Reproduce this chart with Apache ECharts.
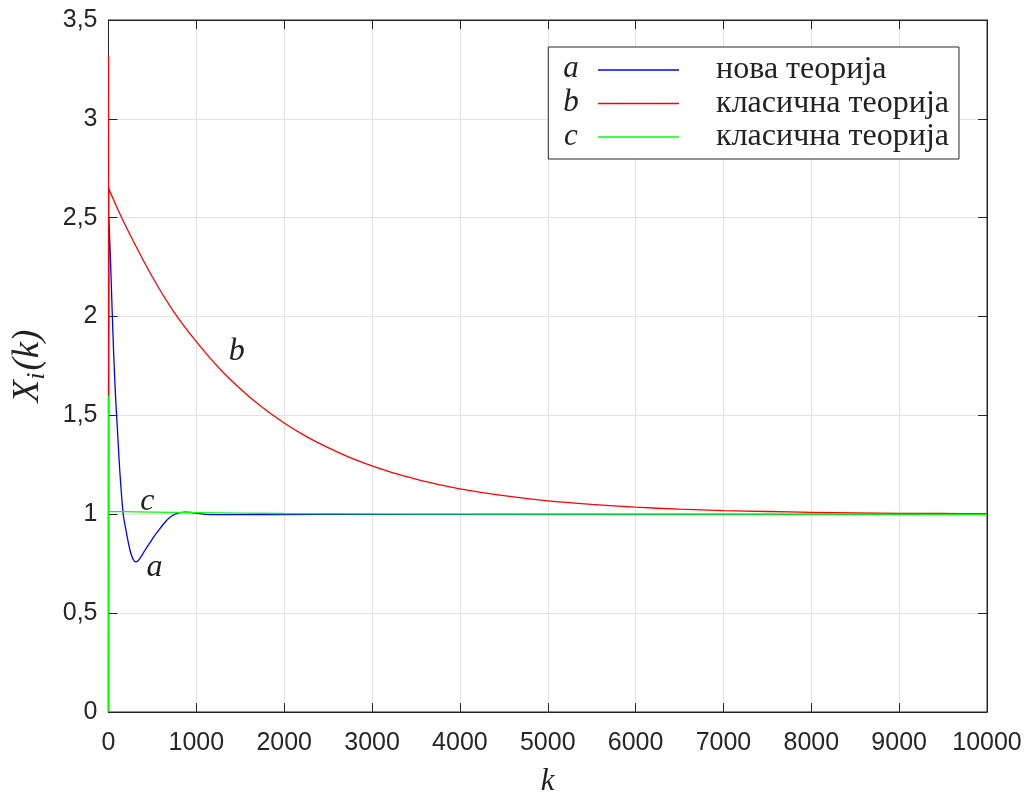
<!DOCTYPE html>
<html>
<head>
<meta charset="utf-8">
<script src="https://cdn.jsdelivr.net/npm/echarts@6/dist/echarts.min.js"></script>
<style>
  html, body { margin: 0; padding: 0; background: #fff; }
  #chart { width: 1031px; height: 796px; }
</style>
</head>
<body>
<div id="chart"></div>
<script>
// Axis ticks
const xTicks = [0, 1000, 2000, 3000, 4000, 5000, 6000, 7000, 8000, 9000, 10000];
const yTicks = [0, 0.5, 1, 1.5, 2, 2.5, 3, 3.5];

// Legend texts per curve
const curveNames = ['a', 'b', 'c'];
const curveLabels = ['нова теорија', 'класична теорија', 'класична теорија'];
const curveColors = ['#0000ff', '#ff0000', '#00ff00'];

// Curve a: new theory (k, X)
const kA = [0, 3, 20, 40, 60, 82, 100, 130, 168, 207, 245, 270, 290, 310, 330, 360, 415, 470, 529, 590, 643, 700, 757, 810, 870, 940, 1000, 1100, 1250, 1500, 2000, 3000, 5000, 10000];
const xA = [0, 2.5, 2.32, 2.05, 1.8, 1.58, 1.44, 1.21, 1.0, 0.9, 0.818, 0.783, 0.766, 0.759, 0.762, 0.778, 0.818, 0.855, 0.894, 0.93, 0.96, 0.985, 1.0, 1.008, 1.011, 1.009, 1.005, 1.0, 0.998, 0.998, 0.999, 1.0, 1.0, 1.0];

// Curve b: classical theory
const kB = [0, 1, 2, 5, 10, 100, 250, 500, 750, 1000, 1250, 1500, 1750, 2000, 2250, 2500, 2750, 3000, 3250, 3500, 3750, 4000, 4500, 5000, 5500, 6000, 6500, 7000, 7500, 8000, 8500, 9000, 9500, 10000];
const xB = [0, 3.32, 1.88, 2.65, 2.64, 2.548, 2.41, 2.2, 2.02, 1.873, 1.744, 1.635, 1.541, 1.462, 1.394, 1.337, 1.287, 1.245, 1.208, 1.178, 1.151, 1.129, 1.094, 1.068, 1.05, 1.036, 1.026, 1.019, 1.014, 1.01, 1.007, 1.005, 1.004, 1.003];

// Curve c: classical theory
const kC = [0, 1, 3, 500, 1000, 1500, 2000, 3000, 5000, 10000];
const xC = [0, 1.6, 1.015, 1.011, 1.008, 1.006, 1.004, 1.002, 1.001, 1.0];

// Curve tags placed next to the lines (k, X)
const tagA = [524, 0.728];
const tagB = [1459, 1.823];
const tagC = [443, 1.066];

const pairs = (ks, vs) => ks.map((k, i) => [k, vs[i]]);

const axisColor = '#262626';
const gridColor = '#e3e3e3';
const tickFont = { fontFamily: 'Liberation Sans', fontSize: 25, color: axisColor };
const serifItalic = { fontFamily: 'Liberation Serif', fontStyle: 'italic', color: '#222' };

function tagPoint(coord, letter) {
  return {
    symbol: 'circle',
    symbolSize: 0,
    silent: true,
    data: [{ coord: coord, value: letter }],
    label: {
      show: true,
      position: 'inside',
      formatter: letter,
      fontFamily: 'Liberation Serif',
      fontStyle: 'italic',
      fontSize: 32,
      color: '#222'
    }
  };
}

const series = [
  { data: pairs(kA, xA), tag: tagA, smooth: 0.3 },
  { data: pairs(kB, xB), tag: tagB, smooth: 0.3 },
  { data: pairs(kC, xC), tag: tagC, smooth: false }
].map((s, i) => ({
  name: curveNames[i],
  type: 'line',
  data: s.data,
  xAxisIndex: 0,
  yAxisIndex: 0,
  showSymbol: false,
  symbol: 'none',
  smooth: s.smooth,
  animation: false,
  lineStyle: { color: curveColors[i], width: 1.3 },
  itemStyle: { color: curveColors[i] },
  z: 3 + i,
  markPoint: tagPoint(s.tag, curveNames[i])
}));

const legendRows = [69.3, 102.8, 136.5];

function frameAxis(pos, extra) {
  return Object.assign({
    type: 'value',
    position: pos,
    axisLine: { show: true, onZero: false, lineStyle: { color: axisColor, width: 1 } },
    axisTick: { show: true, inside: true, length: 9, lineStyle: { color: axisColor } },
    axisLabel: { show: false },
    splitLine: { show: false }
  }, extra);
}

const chart = echarts.init(document.getElementById('chart'));
chart.setOption({
  animation: false,
  backgroundColor: '#fff',
  grid: {
    left: 108.5, right: 44, top: 20, bottom: 84,
    outerBoundsMode: 'none',
    containLabel: false,
    show: true, borderColor: axisColor, borderWidth: 1, backgroundColor: 'transparent'
  },
  xAxis: [
    frameAxis('bottom', {
      min: 0, max: 10000, interval: 1000,
      name: 'k', nameLocation: 'middle', nameGap: 54,
      nameTextStyle: Object.assign({ fontSize: 31 }, serifItalic),
      axisLabel: Object.assign({ show: true, margin: 19, formatter: v => String(v) }, tickFont),
      splitLine: { show: true, lineStyle: { color: gridColor, width: 1 } }
    }),
    frameAxis('top', { min: 0, max: 10000, interval: 1000 })
  ],
  yAxis: [
    frameAxis('left', {
      min: 0, max: 3.5, interval: 0.5,
      name: '{x|X}{s|i}{x|(k)}', nameLocation: 'middle', nameGap: 58,
      nameTextStyle: {
        rich: {
          x: Object.assign({ fontSize: 37 }, serifItalic),
          s: Object.assign({ fontSize: 26, padding: [18, 2, 0, 0] }, serifItalic)
        }
      },
      axisLabel: Object.assign({
        show: true,
        margin: 11,
        formatter: v => String(v).replace('.', ',')
      }, tickFont),
      splitLine: { show: true, lineStyle: { color: gridColor, width: 1 } }
    }),
    frameAxis('right', { min: 0, max: 3.5, interval: 0.5 })
  ],
  legend: {
    orient: 'vertical',
    left: 548.3,
    top: 47,
    padding: [7, 10, 6, 49],
    itemWidth: 81,
    itemHeight: 20,
    itemGap: 1.5,
    backgroundColor: '#fff',
    borderColor: axisColor,
    borderWidth: 1,
    data: curveNames,
    itemStyle: { opacity: 0 },
    lineStyle: { width: 1.6 },
    formatter: name => curveLabels[curveNames.indexOf(name)],
    textStyle: {
      fontFamily: 'Liberation Serif',
      fontSize: 32,
      color: '#222',
      padding: [0, 0, 0, 32]
    }
  },
  graphic: curveNames.map((n, i) => ({
    type: 'text',
    z: 200,
    x: 571,
    y: legendRows[i],
    style: {
      text: n,
      font: 'italic 31px "Liberation Serif"',
      fill: '#222',
      textAlign: 'center',
      textVerticalAlign: 'middle'
    }
  })),
  series: series
});
</script>
</body>
</html>
